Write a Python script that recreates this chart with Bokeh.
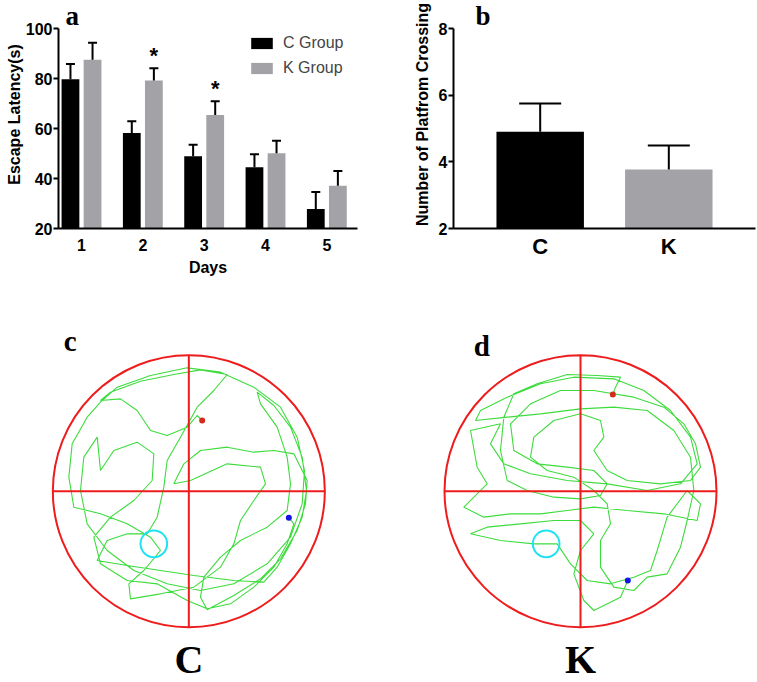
from bokeh.plotting import figure
from bokeh.models import (Range1d, FactorRange, ColumnDataSource, Whisker, TeeHead,
                          Legend, LegendItem, FixedTicker)
from bokeh.layouts import column, row
from bokeh.embed import file_html
from bokeh.resources import INLINE
from bokeh.core.properties import value

# ---------------- data ----------------
days = [1, 2, 3, 4, 5]
c_mean = [79.7, 58.2, 48.9, 44.5, 27.8]
c_sem = [6.1, 4.7, 4.6, 5.2, 6.8]
k_mean = [87.5, 79.2, 65.4, 50.1, 37.1]
k_sem = [6.8, 4.9, 5.5, 5.0, 5.9]
k_sig = ["", "*", "*", "", ""]

groups = ["C", "K"]
cross_mean = [4.90, 3.77]
cross_sem = [0.85, 0.72]

# swim tracks (camera pixel coordinates), arena calibration (centre x, centre y, radius)
c_arena = (565, 722, 408)
c_platform = (460, 880, 40)
c_track_x = [605, 590, 560, 500, 450, 410, 360, 300, 330, 420, 520, 600, 680, 640, 590, 540, 500, 490, 470, 440,
             380, 320, 290, 380, 480, 580, 700, 790, 830, 870, 905, 918, 905, 870, 820, 770, 780, 830, 860, 870,
             860, 800, 720, 660, 610, 600, 620, 700, 780, 840, 890, 915, 920, 880, 820, 760, 680, 600, 550, 520,
             570, 680, 780, 795, 760, 720, 700, 660, 580, 480, 390, 385, 430, 480, 450, 380, 300, 220, 205, 215,
             260, 300, 350, 450, 560, 660, 760, 840, 890, 912, 905, 870, 800, 700, 600, 500, 400, 320, 260, 240,
             250, 290, 300, 340, 410, 460, 455, 400, 330, 280, 300, 380, 470, 560, 620, 690, 760, 820, 860,
             880, 865]
c_track_y = [510, 495, 530, 555, 540, 480, 445, 450, 425, 392, 372, 358, 372, 420, 470, 560, 630, 710, 800, 850,
             850, 870, 930, 945, 960, 975, 990, 995, 950, 880, 800, 720, 620, 530, 465, 425, 460, 530, 620, 700,
             780, 830, 870, 920, 980, 1040, 1078, 1035, 985, 925, 840, 760, 690, 610, 600, 605, 590, 600, 640, 700,
             690, 640, 650, 700, 750, 810, 880, 950, 1010, 1030, 1045, 1000, 960, 900, 860, 820, 790, 770, 680, 580,
             500, 455, 410, 375, 352, 365, 410, 470, 560, 660, 760, 860, 940, 1000, 1020, 1000, 960, 900, 820, 720,
             620, 560, 660, 600, 575, 610, 690, 750, 800, 860, 940, 990, 1000, 1050, 1075, 1060, 1010, 950, 880,
             820, 802]

d_arena = (600, 722, 408)
d_platform = (497, 880, 40)
d_track_x = [697, 705, 720, 650, 560, 470, 400, 370, 360, 380, 440, 520, 600, 660, 680, 640, 560, 470, 400, 390,
             450, 540, 640, 760, 850, 910, 945, 960, 930, 840, 740, 680, 640, 670, 660, 600, 520, 460, 450, 500,
             580, 640, 680, 690, 660, 660, 700, 760, 800, 860, 900, 920, 940, 930, 880, 800, 700, 600, 480, 380,
             285, 300, 380, 480, 580, 700, 790, 870, 930, 950, 900, 800, 680, 560, 450, 370, 330, 360,
             270, 290, 320, 290, 250, 310, 390, 480, 560, 640, 740, 850, 950, 960, 920, 860, 830, 810, 760,
             690, 620, 570, 530, 460, 360, 270, 320, 420, 520, 600, 640, 600, 580, 610, 640, 720, 742]
d_track_y = [432, 410, 380, 375, 372, 400, 430, 500, 600, 690, 720, 740, 745, 735, 700, 660, 650, 640, 600, 520,
             460, 420, 420, 440, 470, 520, 580, 650, 690, 700, 690, 660, 600, 560, 510, 490, 510, 560, 620, 660,
             680, 720, 760, 820, 870, 950, 1010, 1020, 980, 970, 890, 810, 720, 620, 540, 480, 470, 475, 490, 500,
             510, 480, 440, 400, 380, 385, 420, 480, 560, 640, 700, 720, 700, 690, 670, 640, 580, 520,
             540, 650, 700, 730, 770, 800, 790, 790, 780, 770, 780, 790, 810, 760, 720, 800, 900, 960, 980,
             1000, 990, 940, 880, 880, 870, 850, 830, 820, 810, 810, 850, 900, 970, 1050, 1080, 1040, 990]

# ---------------- style ----------------
SANS = "Liberation Sans"
SERIF = "Liberation Serif"
BLACK = "#000000"
GREY = "#a3a3a7"
RED = "#ee1c1c"
GREEN = "#3ddc3d"
CYAN = "#22e2f2"


def style_axes(p, xfont, yfont):
    for ax in (p.xaxis[0], p.yaxis[0]):
        ax.axis_line_width = 2
        ax.axis_line_color = BLACK
        ax.major_tick_line_width = 2
        ax.major_tick_line_color = BLACK
        ax.major_tick_out = 5
        ax.major_tick_in = 0
        ax.minor_tick_line_color = None
        ax.major_label_text_font = SANS
        ax.major_label_text_font_style = "bold"
        ax.major_label_text_color = BLACK
        ax.axis_label_text_font = SANS
        ax.axis_label_text_font_style = "bold"
        ax.axis_label_text_color = BLACK
        ax.axis_label_text_font_size = "16px"
    p.xaxis.major_tick_line_color = None
    p.xaxis.major_tick_out = 0
    p.xaxis.major_label_text_font_size = xfont
    p.yaxis.major_label_text_font_size = yfont
    p.xgrid.visible = False
    p.ygrid.visible = False
    p.outline_line_color = None


def letter(p, x, y, txt, size, align="left"):
    p.text(x=[x], y=[y], text=[txt], text_font=value(SERIF), text_font_style="bold",
           text_font_size=size, text_color=BLACK, text_align=align, text_baseline="alphabetic")


# ---------------- panel a ----------------
off = 0.18
src = ColumnDataSource(dict(
    cx=[d - off for d in days], kx=[d + off for d in days],
    c_mean=c_mean, c_hi=[m + s for m, s in zip(c_mean, c_sem)],
    k_mean=k_mean, k_hi=[m + s for m, s in zip(k_mean, k_sem)],
    sig=k_sig))

pa = figure(width=378, height=288, x_range=Range1d(0.625, 5.5), y_range=Range1d(20, 111.2),
            output_backend="svg", toolbar_location=None,
            min_border_left=58, min_border_right=21, min_border_top=0, min_border_bottom=60)
rc = pa.vbar(x="cx", top="c_mean", bottom=20, width=0.29, fill_color=BLACK, line_color=None, source=src)
rk = pa.vbar(x="kx", top="k_mean", bottom=20, width=0.29, fill_color=GREY, line_color=None, source=src)
for base, lo, hi in (("cx", "c_mean", "c_hi"), ("kx", "k_mean", "k_hi")):
    pa.add_layout(Whisker(base=base, lower=lo, upper=hi, source=src, level="overlay",
                          line_width=2, line_color=BLACK, lower_head=None,
                          upper_head=TeeHead(size=9, line_width=2, line_color=BLACK)))
pa.text(x="kx", y="k_hi", text="sig", source=src, text_font=value(SANS), text_font_style="bold",
        text_font_size="22px", text_align="center", text_baseline="alphabetic", y_offset=-13,
        text_color=BLACK)
pa.xaxis.ticker = FixedTicker(ticks=days)
pa.yaxis.ticker = FixedTicker(ticks=[20, 40, 60, 80, 100])
pa.yaxis.bounds = (20, 100)
pa.xaxis.axis_label = "Days"
pa.yaxis.axis_label = "Escape Latency(s)"
style_axes(pa, "16px", "16px")
pa.xaxis.major_label_standoff = 10
pa.xaxis.axis_label_standoff = 5
pa.yaxis.major_label_standoff = 1
pa.yaxis.axis_label_standoff = 0

legend = Legend(items=[LegendItem(label="C Group", renderers=[rc]),
                       LegendItem(label="K Group", renderers=[rk])],
                location=(190, 151), label_text_font=SANS, label_text_font_size="16px",
                glyph_width=27, glyph_height=14, label_height=14, spacing=7, padding=0, margin=0,
                label_standoff=8, border_line_color=None, background_fill_alpha=0)
pa.add_layout(legend)
letter(pa, 0.74, 105.2, "a", "27px")

# ---------------- panel b ----------------
srcb = ColumnDataSource(dict(g=groups, m=cross_mean, hi=[m + s for m, s in zip(cross_mean, cross_sem)],
                             col=[BLACK, GREY]))
pb = figure(width=379, height=288,
            x_range=FactorRange(factors=groups, range_padding=0.174, range_padding_units="absolute"),
            y_range=Range1d(2, 8.84), output_backend="svg", toolbar_location=None,
            min_border_left=75, min_border_right=2, min_border_top=0, min_border_bottom=60)
pb.vbar(x="g", top="m", bottom=2, width=0.68, fill_color="col", line_color=None, source=srcb)
pb.add_layout(Whisker(base="g", lower="m", upper="hi", source=srcb, level="overlay",
                      line_width=2, line_color=BLACK, lower_head=None,
                      upper_head=TeeHead(size=42, line_width=2, line_color=BLACK)))
pb.yaxis.ticker = FixedTicker(ticks=[2, 4, 6, 8])
pb.yaxis.bounds = (2, 8)
pb.yaxis.axis_label = "Number of Platfrom Crossing"
style_axes(pb, "22px", "16px")
pb.xaxis.major_label_standoff = 5
pb.yaxis.major_label_standoff = 1
pb.yaxis.axis_label_standoff = 5
letter(pb, -0.003, 8.39, "b", "27px")


# ---------------- panels c, d ----------------
def arena(width, xr, arena_cal, plat, tx, ty, let, let_xy, name):
    cx, cy, R = arena_cal
    p = figure(width=width, height=394, x_range=Range1d(*xr), y_range=Range1d(1296, 114),
               output_backend="svg", toolbar_location=None, x_axis_type=None, y_axis_type=None,
               min_border=0)
    p.xgrid.visible = False
    p.ygrid.visible = False
    p.outline_line_color = None
    p.line(x=tx, y=ty, line_color=GREEN, line_width=1.1)
    p.circle(x=[plat[0]], y=[plat[1]], radius=plat[2], fill_color=None, line_color=CYAN, line_width=2)
    p.circle(x=[cx], y=[cy], radius=R, fill_color=None, line_color=RED, line_width=2)
    p.segment(x0=[cx - R, cx], y0=[cy, cy - R], x1=[cx + R, cx], y1=[cy, cy + R],
              line_color=RED, line_width=2)
    p.scatter(x=[tx[0]], y=[ty[0]], size=6, fill_color="#d42a1a", line_color=None)
    p.scatter(x=[tx[-1]], y=[ty[-1]], size=6, fill_color="#1414e6", line_color=None)
    letter(p, let_xy[0], let_xy[1], let, "29px")
    letter(p, cx, 1228, name, "40px", align="center")
    return p


pc = arena(378, (0, 1134), c_arena, c_platform, c_track_x, c_track_y, "c", (190, 271), "C")
pd = arena(379, (-6, 1131), d_arena, d_platform, d_track_x, d_track_y, "d", (280, 286), "K")

layout = column(row(pa, pb), row(pc, pd))
open("out.html", "w").write(file_html(layout, INLINE))
